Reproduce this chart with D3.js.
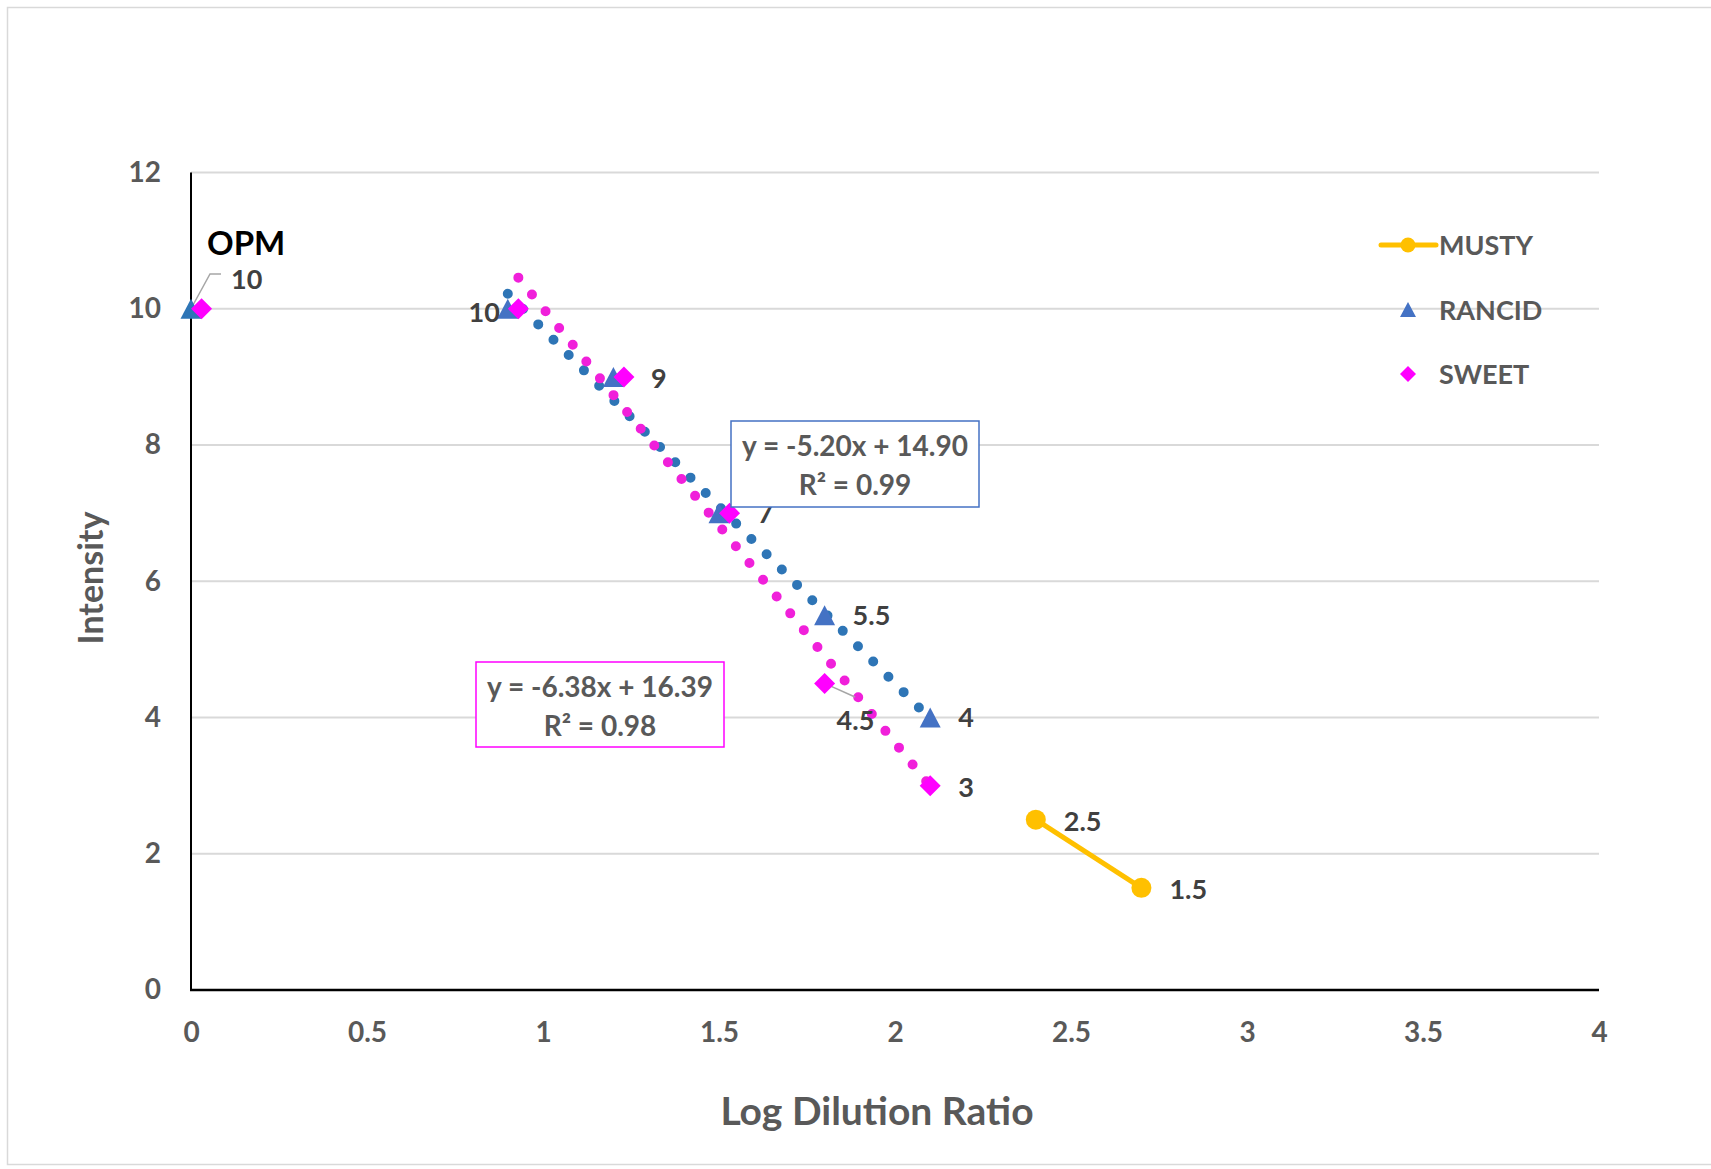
<!DOCTYPE html>
<html>
<head>
<meta charset="utf-8">
<title>log_dilution_scatter</title>
<script src="https://cdn.jsdelivr.net/npm/d3@7/dist/d3.min.js"></script>
<style>
  body { margin: 0; background: #fff; }
  text { font-family: Lato, "Open Sans", sans-serif; font-weight: bold; }
</style>
</head>
<body>
<svg id="chart" width="1711" height="1169"></svg>
<script>
// ---- data ----
const xTicks = [0, 0.5, 1, 1.5, 2, 2.5, 3, 3.5, 4]
const yTicks = [0, 2, 4, 6, 8, 10, 12]

const mustyX = [2.4, 2.7]
const mustyY = [2.5, 1.5]

const rancidX = [0.9, 1.2, 1.5, 1.8, 2.1]
const rancidY = [10, 9, 7, 5.5, 4]

const sweetX = [0.93, 1.23, 1.53, 1.8, 2.1]
const sweetY = [10, 9, 7, 4.5, 3]

// OPM reference points (plotted at the left edge)
const opmRancidX = [0]
const opmRancidY = [10]
const opmSweetX = [0.03]
const opmSweetY = [10]

// trendlines: rancid, sweet
const trendSlope = [-5.20, -6.38]
const trendIntercept = [14.90, 16.39]
const trendR2 = [0.99, 0.98]

const legendNames = ["MUSTY", "RANCID", "SWEET"]

// ---- layout ----
const svg = d3.select("#chart")
const pLeft = 191, pRight = 1599, pTop = 172.5, pBottom = 990

const x = d3.scaleLinear().domain([0, 4]).range([pLeft, pRight])
const y = d3.scaleLinear().domain([0, 12]).range([pBottom, pTop])

const blue = "#4472C4", blueDark = "#2E75B6"
const pink = "#FF00FF", pinkDots = "#F020DA"
const gold = "#FFC000"
const grey = "#595959", labelGrey = "#404040"

const zip = (xs, ys) => xs.map((v, i) => ({x: v, y: ys[i]}))
const musty = zip(mustyX, mustyY)
const rancid = zip(rancidX, rancidY)
const sweet = zip(sweetX, sweetY)

// chart frame
svg.append("rect")
  .attr("x", 7.5).attr("y", 7.5)
  .attr("width", 1730).attr("height", 1157)
  .attr("fill", "white").attr("stroke", "#D9D9D9").attr("stroke-width", 1.5)

// gridlines
svg.append("g").selectAll("line")
  .data(yTicks.filter(d => d > 0))
  .enter().append("line")
  .attr("x1", pLeft).attr("x2", pRight)
  .attr("y1", d => y(d)).attr("y2", d => y(d))
  .attr("stroke", "#D9D9D9").attr("stroke-width", 2)

// axes
let xAxis = svg.append("g")
  .attr("transform", `translate(0,${pBottom})`)
  .call(d3.axisBottom(x).tickValues(xTicks).tickSize(0).tickPadding(32).tickFormat(d3.format("")))
let yAxis = svg.append("g")
  .attr("transform", `translate(${pLeft},0)`)
  .call(d3.axisLeft(y).tickValues(yTicks).tickSize(0).tickPadding(30))
for (let ax of [xAxis, yAxis]) {
  ax.select(".domain").remove()
  ax.selectAll("text")
    .attr("fill", grey)
    .style("font-size", "28px")
    .style("font-family", "Lato, sans-serif")
    .style("font-weight", "bold")
}
svg.append("line")
  .attr("x1", pLeft).attr("x2", pLeft).attr("y1", pTop).attr("y2", pBottom)
  .attr("stroke", "black").attr("stroke-width", 2)
svg.append("line")
  .attr("x1", pLeft - 1).attr("x2", pRight).attr("y1", pBottom).attr("y2", pBottom)
  .attr("stroke", "black").attr("stroke-width", 2.5)

// axis titles
svg.append("text")
  .attr("x", 877).attr("y", 1125)
  .attr("text-anchor", "middle")
  .attr("fill", grey).style("font-size", "39px")
  .text("Log Dilution Ratio")
svg.append("text")
  .attr("transform", "translate(103,578) rotate(-90)")
  .attr("text-anchor", "middle")
  .attr("fill", grey).style("font-size", "34px")
  .text("Intensity")

// trendlines (dotted)
const trendRanges = [[0.9, 2.1], [0.93, 2.1]]
const trendColors = [blueDark, pinkDots]
trendSlope.forEach((m, i) => {
  let [a, b] = trendRanges[i]
  svg.append("line")
    .attr("x1", x(a)).attr("y1", y(m * a + trendIntercept[i]))
    .attr("x2", x(b)).attr("y2", y(m * b + trendIntercept[i]))
    .attr("stroke", trendColors[i])
    .attr("stroke-width", 10)
    .attr("stroke-linecap", "round")
    .attr("stroke-dasharray", "0 21.6")
})

// marker shapes
const triPath = (w, h) => `M0,${-h / 2}L${w / 2},${h / 2}L${-w / 2},${h / 2}Z`
const diaPath = r => `M0,${-r}L${r},0L0,${r}L${-r},0Z`

// musty line + circles
svg.append("path")
  .datum(musty)
  .attr("d", d3.line().x(d => x(d.x)).y(d => y(d.y)))
  .attr("fill", "none").attr("stroke", gold).attr("stroke-width", 5)
svg.append("g").selectAll("circle")
  .data(musty).enter().append("circle")
  .attr("cx", d => x(d.x)).attr("cy", d => y(d.y)).attr("r", 10)
  .attr("fill", gold)

// leader lines
const leaders = [
  [[x(0), y(10)], [210, 274], [221, 274]],
  [[x(1.8), y(4.5)], [855, 697]]
]
svg.append("g").selectAll("path")
  .data(leaders).enter().append("path")
  .attr("d", d => d3.line()(d))
  .attr("fill", "none").attr("stroke", "#A6A6A6").attr("stroke-width", 1.5)

// rancid triangles
svg.append("g").selectAll("path")
  .data(zip(opmRancidX, opmRancidY)).enter().append("path")
  .attr("d", triPath(21, 20))
  .attr("transform", d => `translate(${x(d.x)},${y(d.y)})`)
  .attr("fill", blueDark)
svg.append("g").selectAll("path")
  .data(rancid).enter().append("path")
  .attr("d", triPath(21, 20))
  .attr("transform", d => `translate(${x(d.x)},${y(d.y)})`)
  .attr("fill", blue)

// sweet diamonds
svg.append("g").selectAll("path")
  .data(sweet.concat(zip(opmSweetX, opmSweetY))).enter().append("path")
  .attr("d", diaPath(10.5))
  .attr("transform", d => `translate(${x(d.x)},${y(d.y)})`)
  .attr("fill", pink)

// data labels: [x, y, text, dx, dy, anchor]
const dataLabels = [
  [0, 10, "10", 40, -19.5, "start"],
  [0.9, 10, "10", -8, 13, "end"],
  [1.23, 9, "9", 27, 11, "start"],
  [1.53, 7, "7", 28, 10, "start"],
  [1.8, 5.5, "5.5", 28, 9.5, "start"],
  [1.8, 4.5, "4.5", 12, 47, "start"],
  [2.1, 4, "4", 28, 9, "start"],
  [2.1, 3, "3", 28, 11.5, "start"],
  [2.4, 2.5, "2.5", 28, 11.5, "start"],
  [2.7, 1.5, "1.5", 28, 11.5, "start"]
]
svg.append("g").selectAll("text")
  .data(dataLabels).enter().append("text")
  .attr("x", d => x(d[0]) + d[3]).attr("y", d => y(d[1]) + d[4])
  .attr("text-anchor", d => d[5])
  .attr("fill", labelGrey).style("font-size", "27px")
  .text(d => d[2])

svg.append("text")
  .attr("x", 207).attr("y", 255)
  .attr("fill", "black").style("font-size", "33px")
  .text("OPM")

// equation boxes
const fmt = v => v.toFixed(2)
const eqBoxes = [[731, 421, 248, 86, blue], [476, 662, 248, 85, pink]]
eqBoxes.forEach((b, i) => {
  let g = svg.append("g")
  g.append("rect")
    .attr("x", b[0]).attr("y", b[1]).attr("width", b[2]).attr("height", b[3])
    .attr("fill", "white").attr("stroke", b[4]).attr("stroke-width", 1.5)
  let sign = trendIntercept[i] >= 0 ? "+" : "-"
  g.append("text")
    .attr("x", b[0] + b[2] / 2).attr("y", b[1] + 35)
    .attr("text-anchor", "middle").attr("fill", grey).style("font-size", "28px")
    .text(`y = ${fmt(trendSlope[i])}x ${sign} ${fmt(Math.abs(trendIntercept[i]))}`)
  g.append("text")
    .attr("x", b[0] + b[2] / 2).attr("y", b[1] + 74)
    .attr("text-anchor", "middle").attr("fill", grey).style("font-size", "28px")
    .text(`R² = ${fmt(trendR2[i])}`)
})

// legend
const legend = svg.append("g").attr("transform", "translate(1408,245)")
legendNames.forEach((name, i) => {
  let row = legend.append("g").attr("transform", `translate(0,${i * 64.5})`)
  if (i == 0) {
    row.append("line").attr("x1", -27).attr("x2", 28)
      .attr("stroke", gold).attr("stroke-width", 5).attr("stroke-linecap", "round")
    row.append("circle").attr("r", 7.5).attr("fill", gold)
  } else if (i == 1) {
    row.append("path").attr("d", triPath(16, 15)).attr("fill", blue)
  } else {
    row.append("path").attr("d", diaPath(8)).attr("fill", pink)
  }
  row.append("text")
    .attr("x", 31).attr("y", 10)
    .attr("fill", grey).style("font-size", "27px")
    .text(name)
})
</script>
</body>
</html>
